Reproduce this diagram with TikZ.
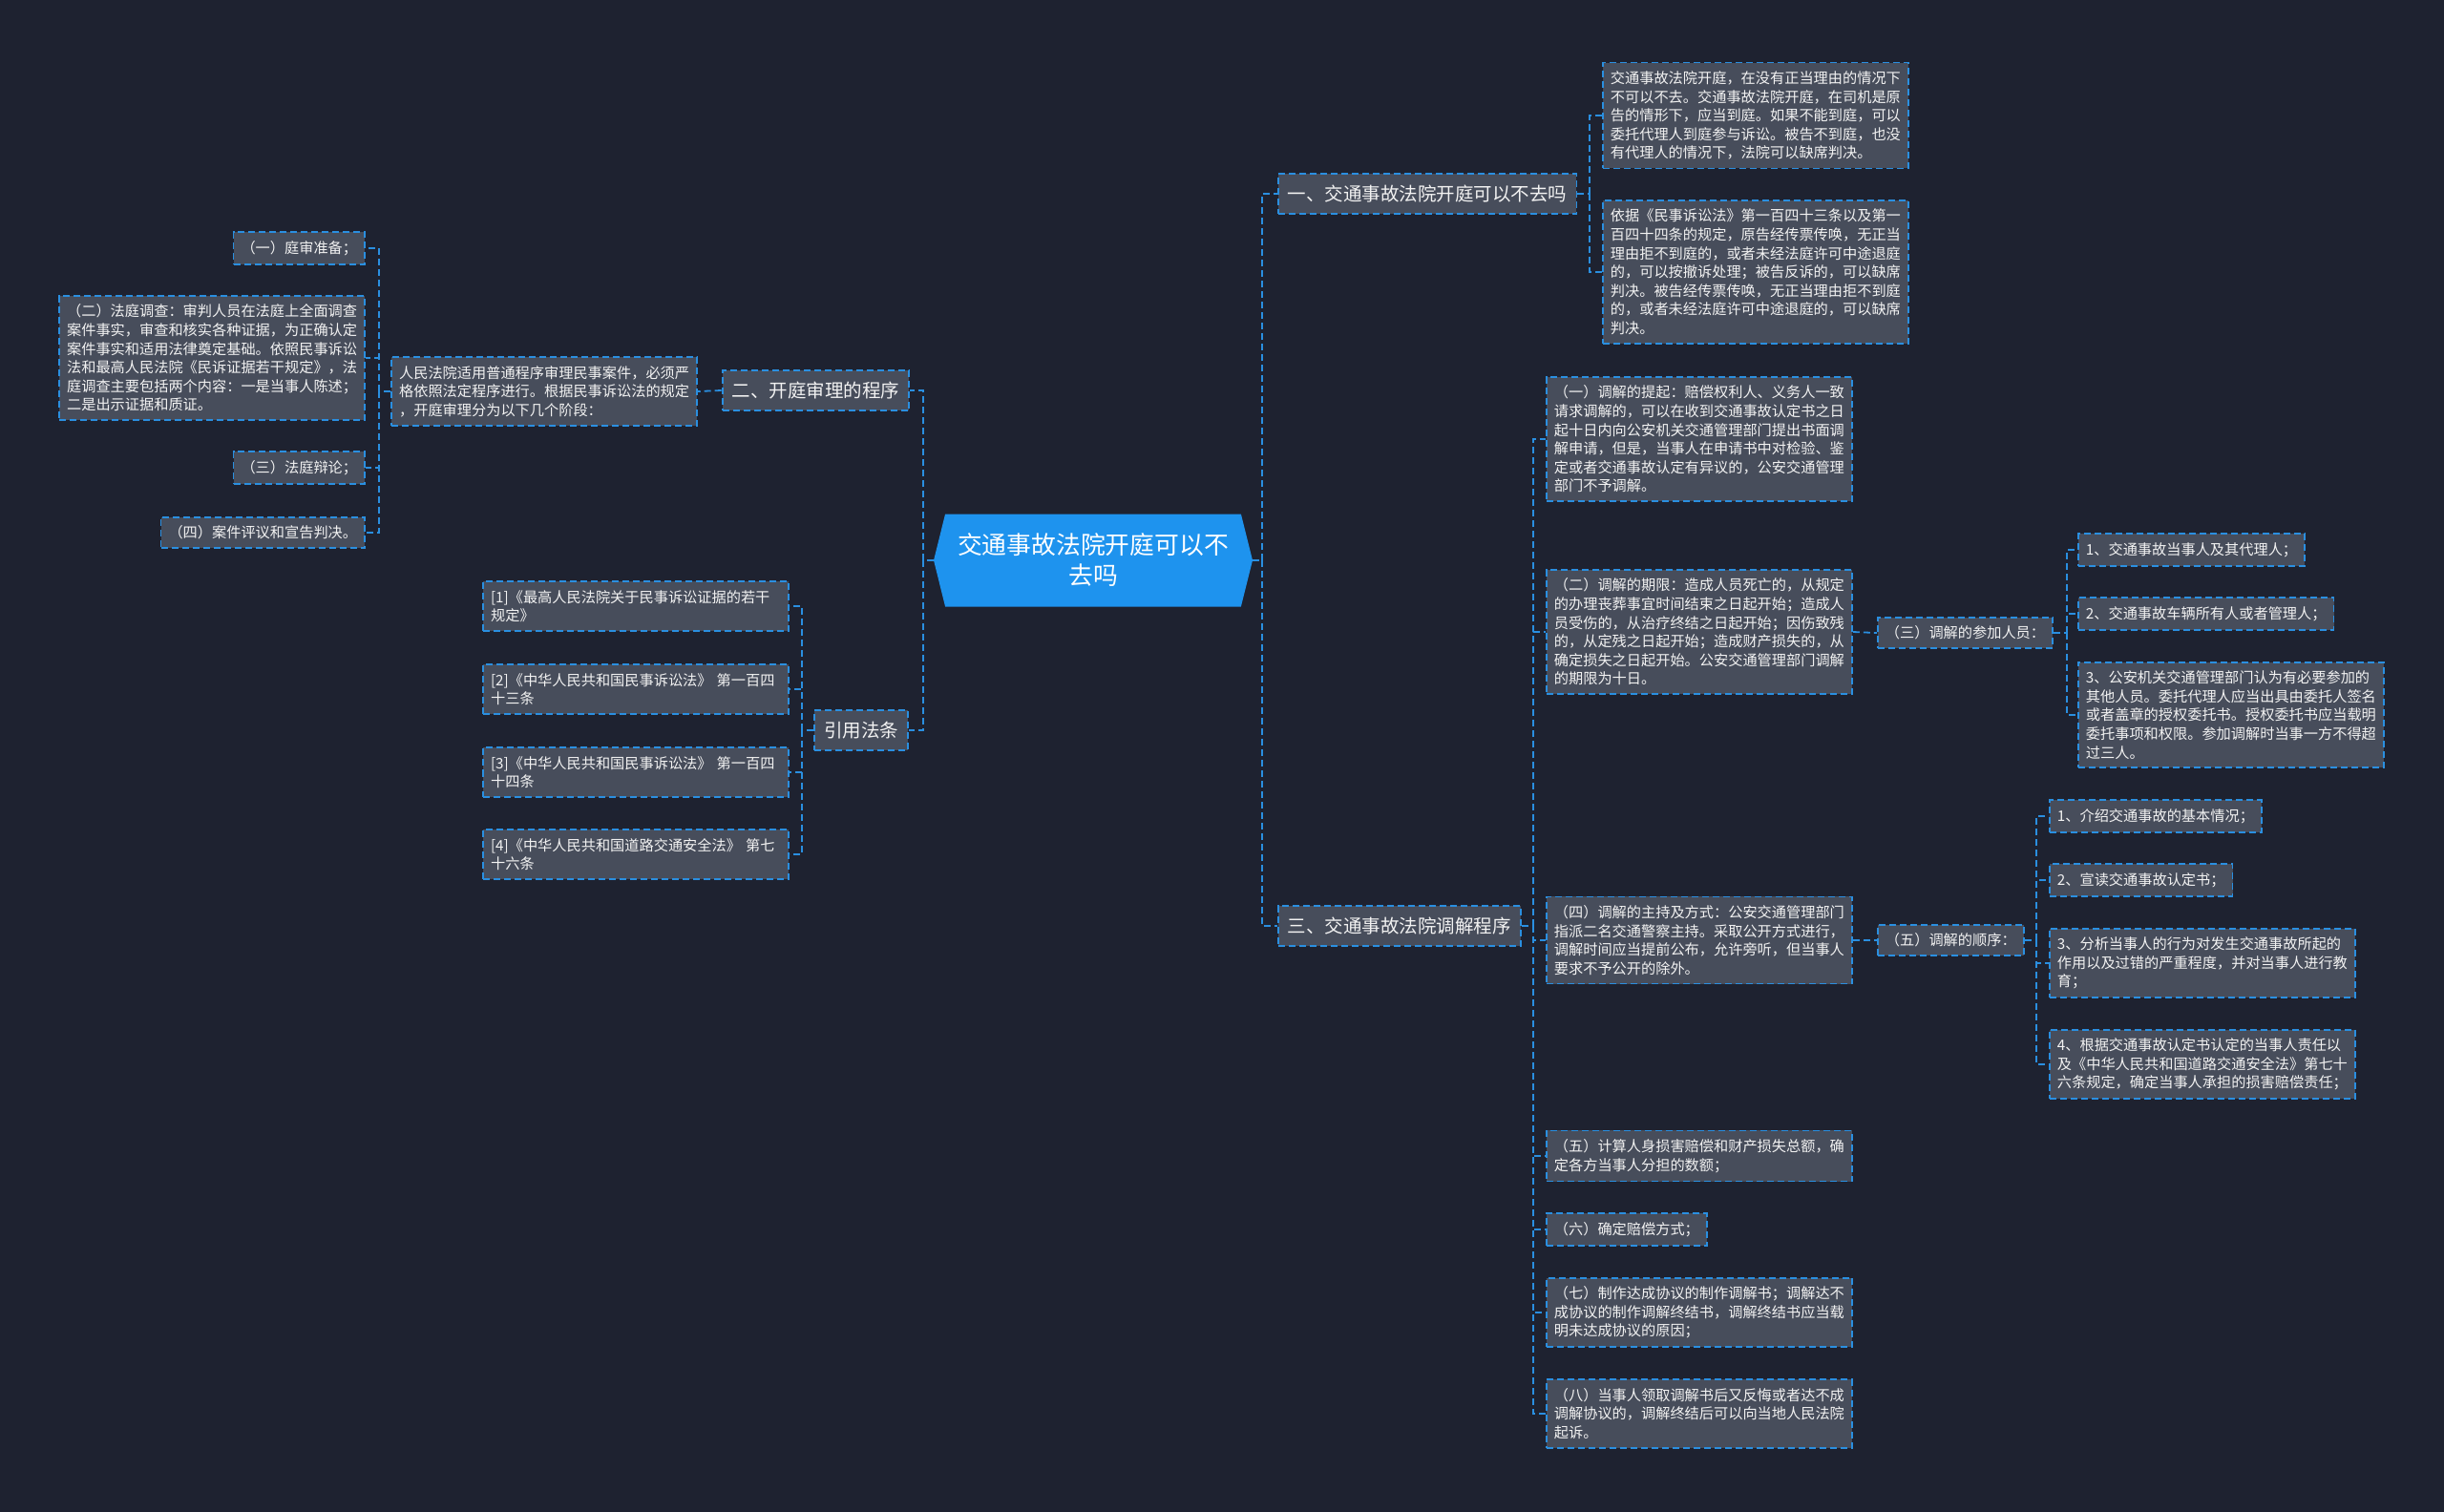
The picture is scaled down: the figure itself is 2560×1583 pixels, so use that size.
\documentclass[tikz,border=0pt]{standalone}
\usepackage{fontspec}
\setmainfont{Noto Sans CJK SC}
\usetikzlibrary{shapes.symbols}

\definecolor{bgdark}{HTML}{1E2230}
\definecolor{boxgrey}{HTML}{474D5B}
\definecolor{lineblue}{HTML}{2A8FE0}
\definecolor{rootblue}{HTML}{1E93EE}
\definecolor{textwhite}{HTML}{F2F2F2}

\newcommand*{\leaffont}{\fontsize{15.2pt}{19.6pt}\selectfont}
\newcommand*{\branchfont}{\fontsize{19.5pt}{24pt}\selectfont}
\newcommand*{\rootfont}{\fontsize{25.8pt}{32pt}\selectfont}

\begin{document}
\begin{tikzpicture}
[
	x=1pt, y=-1pt,
	link/.style={draw=lineblue, line width=1.8pt, dash pattern=on 7pt off 4pt},
	leafbox/.style={link, fill=boxgrey, text=textwhite, font=\leaffont, align=left, inner xsep=8pt, inner ysep=9pt},
	widebox/.style={leafbox, text width=304pt},
	branchbox/.style={link, fill=boxgrey, text=textwhite, font=\branchfont, inner xsep=10pt, inner ysep=12pt},
	rootbox/.style={signal, signal to=west and east, signal pointer angle=152, fill=rootblue, text=white, font=\rootfont, align=center, minimum height=97pt, inner xsep=13pt}
]

	% background
	\useasboundingbox (0,0) rectangle (2560,1583);
	\fill[bgdark] (-10,-10) rectangle (2570,1593);

	% centre
	\node[rootbox] (root) at (1145,587) {交通事故法院开庭可以不\\去吗};

	\coordinate (lsp) at (967,587);
	\coordinate (rsp) at (1322,587);

	% left: 二
	\node[branchbox, anchor=east] at (953,409) (er) {二、开庭审理的程序};
	\node[widebox, anchor=east] at (731,410) (erdesc) {人民法院适用普通程序审理民事案件，必须严\\格依照法定程序进行。根据民事诉讼法的规定\\，开庭审理分为以下几个阶段：};
	\coordinate (ersp) at (397,410);

	\node[leafbox, anchor=east] at (383,260) (e1) {（一）庭审准备；};
	\node[widebox, anchor=east] at (383,375) (e2) {（二）法庭调查：审判人员在法庭上全面调查\\案件事实，审查和核实各种证据，为正确认定\\案件事实和适用法律奠定基础。依照民事诉讼\\法和最高人民法院《民诉证据若干规定》，法\\庭调查主要包括两个内容：一是当事人陈述；\\二是出示证据和质证。};
	\node[leafbox, anchor=east] at (383,490) (e3) {（三）法庭辩论；};
	\node[leafbox, anchor=east] at (383,558) (e4) {（四）案件评议和宣告判决。};

	% left: 引用法条
	\node[branchbox, anchor=east] at (952,765) (yy) {引用法条};
	\coordinate (yysp) at (840,765);

	\node[widebox, anchor=east] at (827,635) (f1) {[1]《最高人民法院关于民事诉讼证据的若干\\规定》};
	\node[widebox, anchor=east] at (827,722) (f2) {[2]《中华人民共和国民事诉讼法》 第一百四\\十三条};
	\node[widebox, anchor=east] at (827,809) (f3) {[3]《中华人民共和国民事诉讼法》 第一百四\\十四条};
	\node[widebox, anchor=east] at (827,895) (f4) {[4]《中华人民共和国道路交通安全法》 第七\\十六条};

	% right: 一
	\node[branchbox, anchor=west] at (1338,203) (yi) {一、交通事故法院开庭可以不去吗};
	\coordinate (yisp) at (1665,203);

	\node[widebox, anchor=west] at (1678,121) (a1) {交通事故法院开庭，在没有正当理由的情况下\\不可以不去。交通事故法院开庭，在司机是原\\告的情形下，应当到庭。如果不能到庭，可以\\委托代理人到庭参与诉讼。被告不到庭，也没\\有代理人的情况下，法院可以缺席判决。};
	\node[widebox, anchor=west] at (1678,285) (a2) {依据《民事诉讼法》第一百四十三条以及第一\\百四十四条的规定，原告经传票传唤，无正当\\理由拒不到庭的，或者未经法庭许可中途退庭\\的，可以按撤诉处理；被告反诉的，可以缺席\\判决。被告经传票传唤，无正当理由拒不到庭\\的，或者未经法庭许可中途退庭的，可以缺席\\判决。};

	% right: 三
	\node[branchbox, anchor=west] at (1338,970) (san) {三、交通事故法院调解程序};
	\coordinate (sansp) at (1606,970);

	\node[widebox, anchor=west] at (1619,460) (b1) {（一）调解的提起：赔偿权利人、义务人一致\\请求调解的，可以在收到交通事故认定书之日\\起十日内向公安机关交通管理部门提出书面调\\解申请，但是，当事人在申请书中对检验、鉴\\定或者交通事故认定有异议的，公安交通管理\\部门不予调解。};
	\node[widebox, anchor=west] at (1619,662) (b2) {（二）调解的期限：造成人员死亡的，从规定\\的办理丧葬事宜时间结束之日起开始；造成人\\员受伤的，从治疗终结之日起开始；因伤致残\\的，从定残之日起开始；造成财产损失的，从\\确定损失之日起开始。公安交通管理部门调解\\的期限为十日。};
	\node[widebox, anchor=west] at (1619,985) (b3) {（四）调解的主持及方式：公安交通管理部门\\指派二名交通警察主持。采取公开方式进行，\\调解时间应当提前公布，允许旁听，但当事人\\要求不予公开的除外。};
	\node[widebox, anchor=west] at (1619,1211) (b5) {（五）计算人身损害赔偿和财产损失总额，确\\定各方当事人分担的数额；};
	\node[leafbox, anchor=west] at (1619,1288) (b6) {（六）确定赔偿方式；};
	\node[widebox, anchor=west] at (1619,1375) (b7) {（七）制作达成协议的制作调解书；调解达不\\成协议的制作调解终结书，调解终结书应当载\\明未达成协议的原因；};
	\node[widebox, anchor=west] at (1619,1481) (b8) {（八）当事人领取调解书后又反悔或者达不成\\调解协议的，调解终结后可以向当地人民法院\\起诉。};

	% 参加人员
	\node[leafbox, anchor=west] at (1966,663) (c0) {（三）调解的参加人员：};
	\coordinate (c0sp) at (2165,663);
	\node[leafbox, anchor=west] at (2176,576) (c1) {1、交通事故当事人及其代理人；};
	\node[leafbox, anchor=west] at (2176,643) (c2) {2、交通事故车辆所有人或者管理人；};
	\node[widebox, anchor=west] at (2176,749) (c3) {3、公安机关交通管理部门认为有必要参加的\\其他人员。委托代理人应当出具由委托人签名\\或者盖章的授权委托书。授权委托书应当载明\\委托事项和权限。参加调解时当事一方不得超\\过三人。};

	% 调解的顺序
	\node[leafbox, anchor=west] at (1966,985) (d0) {（五）调解的顺序：};
	\coordinate (d0sp) at (2133,985);
	\node[leafbox, anchor=west] at (2146,855) (d1) {1、介绍交通事故的基本情况；};
	\node[leafbox, anchor=west] at (2146,922) (d2) {2、宣读交通事故认定书；};
	\node[widebox, anchor=west] at (2146,1009) (d3) {3、分析当事人的行为对发生交通事故所起的\\作用以及过错的严重程度，并对当事人进行教\\育；};
	\node[widebox, anchor=west] at (2146,1115) (d4) {4、根据交通事故认定书认定的当事人责任以\\及《中华人民共和国道路交通安全法》第七十\\六条规定，确定当事人承担的损害赔偿责任；};

	% connectors
	\draw[link] (root.west) -- (lsp);
	\draw[link] (root.east) -- (rsp);
	\foreach \c in {er,yy} \draw[link] (lsp) |- (\c.east);
	\foreach \c in {yi,san} \draw[link] (rsp) |- (\c.west);

	\draw[link] (er.west) -- (erdesc.east);
	\draw[link] (erdesc.west) -- (ersp);
	\foreach \c in {e1,e2,e3,e4} \draw[link] (ersp) |- (\c.east);

	\draw[link] (yy.west) -- (yysp);
	\foreach \c in {f1,f2,f3,f4} \draw[link] (yysp) |- (\c.east);

	\draw[link] (yi.east) -- (yisp);
	\foreach \c in {a1,a2} \draw[link] (yisp) |- (\c.west);

	\draw[link] (san.east) -- (sansp);
	\foreach \c in {b1,b2,b3,b5,b6,b7,b8} \draw[link] (sansp) |- (\c.west);

	\draw[link] (b2.east) -- (c0.west);
	\draw[link] (c0.east) -- (c0sp);
	\foreach \c in {c1,c2,c3} \draw[link] (c0sp) |- (\c.west);

	\draw[link] (b3.east) -- (d0.west);
	\draw[link] (d0.east) -- (d0sp);
	\foreach \c in {d1,d2,d3,d4} \draw[link] (d0sp) |- (\c.west);

\end{tikzpicture}
\end{document}
